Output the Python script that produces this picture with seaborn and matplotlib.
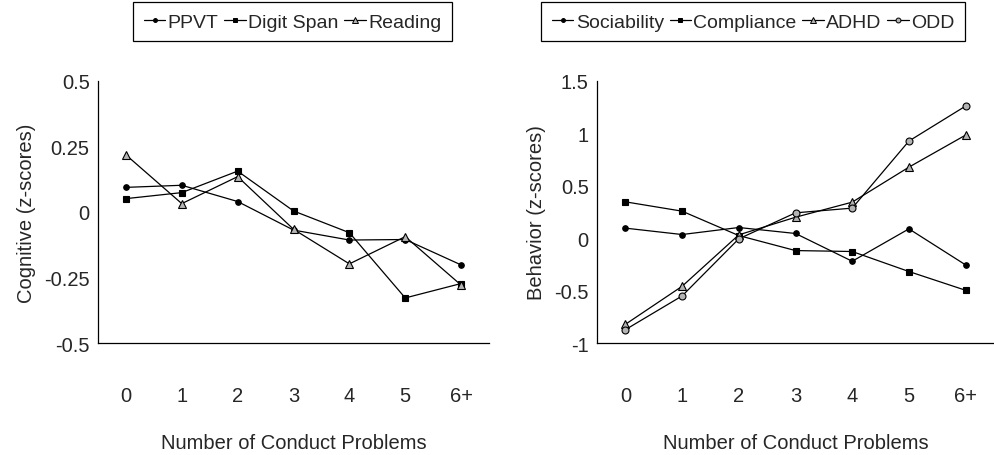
import matplotlib
matplotlib.use('Agg')
import matplotlib.pyplot as plt
from matplotlib.lines import Line2D
import seaborn as sns
import pandas as pd

# Dados
categorias = ['0', '1', '2', '3', '4', '5', '6+']

ppvt = [0.094, 0.102, 0.040, -0.069, -0.107, -0.105, -0.202]
digit_span = [0.051, 0.074, 0.156, 0.004, -0.079, -0.328, -0.273]
reading = [0.218, 0.032, 0.135, -0.066, -0.198, -0.094, -0.279]

sociability = [0.096, 0.035, 0.102, 0.045, -0.220, 0.089, -0.255]
compliance = [0.347, 0.258, 0.025, -0.118, -0.127, -0.318, -0.497]
adhd = [-0.822, -0.459, 0.032, 0.200, 0.344, 0.678, 0.984]
odd = [-0.873, -0.551, -0.006, 0.242, 0.287, 0.927, 1.261]

cog_ticks = [-0.5, -0.25, 0, 0.25, 0.5]
cog_labels = ['-0.5', '-0.25', '0', '0.25', '0.5']
beh_ticks = [-1, -0.5, 0, 0.5, 1, 1.5]
beh_labels = ['-1', '-0.5', '0', '0.5', '1', '1.5']

sns.set_style('white')
plt.rcParams['font.family'] = ['Liberation Sans', 'DejaVu Sans']

fig = plt.figure(figsize=(9.95, 4.56), dpi=100)
ax1 = fig.add_axes([0.0985, 0.2456, 0.393, 0.5746])
ax2 = fig.add_axes([0.600, 0.2456, 0.399, 0.5746])

x = list(range(len(categorias)))
cinza = '#b4b4b4'

estilos = {
    'PPVT': dict(marker='o', markersize=4, markerfacecolor='black'),
    'Digit Span': dict(marker='s', markersize=5, markerfacecolor='black'),
    'Reading': dict(marker='^', markersize=6, markerfacecolor=cinza),
    'Sociability': dict(marker='o', markersize=4, markerfacecolor='black'),
    'Compliance': dict(marker='s', markersize=5, markerfacecolor='black'),
    'ADHD': dict(marker='^', markersize=6, markerfacecolor=cinza),
    'ODD': dict(marker='o', markersize=5, markerfacecolor=cinza),
}

series_cog = {'PPVT': ppvt, 'Digit Span': digit_span, 'Reading': reading}
series_beh = {'Sociability': sociability, 'Compliance': compliance, 'ADHD': adhd, 'ODD': odd}


def desenha(ax, series, ticks, labels, ylabel, legx):
    for nome, vals in series.items():
        sns.lineplot(x=x, y=vals, ax=ax, color='black', linewidth=0.9,
                     markeredgecolor='black', markeredgewidth=0.8,
                     label=nome, **estilos[nome])
    ax.set_xlim(-0.5, 6.5)
    ax.set_ylim(ticks[0], ticks[-1])
    ax.set_yticks(ticks)
    ax.set_yticklabels(labels)
    # ticks maiores nas divisões, rótulos nas categorias
    ax.set_xticks([i - 0.5 for i in range(len(categorias) + 1)])
    ax.set_xticklabels([])
    ax.set_xticks(x, minor=True)
    ax.set_xticklabels(categorias, minor=True)
    ax.tick_params(axis='x', which='major', direction='out', length=6, width=0.9, color='black')
    ax.tick_params(axis='x', which='minor', length=0, pad=31, labelsize=14.5)
    ax.tick_params(axis='y', direction='out', length=4, width=0.9, color='black', pad=2, labelsize=14.5)
    for lado in ['top', 'right']:
        ax.spines[lado].set_visible(False)
    for lado in ['left', 'bottom']:
        ax.spines[lado].set_color('black')
        ax.spines[lado].set_linewidth(0.9)
    ax.set_xlabel('Number of Conduct Problems', fontsize=14.5, labelpad=20)
    ax.set_ylabel(ylabel, fontsize=14.5, labelpad=6)
    ax.get_legend().remove()
    # legenda com marcadores menores (cópias, sem mexer nas linhas do gráfico)
    h = []
    for nome in series:
        est = dict(estilos[nome])
        est['markersize'] = est['markersize'] * 0.7
        h.append(Line2D([], [], color='black', linewidth=0.9, markeredgecolor='black',
                        markeredgewidth=0.7, **est))
    leg = fig.legend(h, list(series), loc='center', bbox_to_anchor=(legx, 0.95), ncol=len(h),
                     fancybox=False, edgecolor='black', fontsize=14,
                     handlelength=1.1, handletextpad=0.12, columnspacing=0.3,
                     borderpad=0.55, borderaxespad=0, framealpha=1)
    leg.get_frame().set_linewidth(0.9)


desenha(ax1, series_cog, cog_ticks, cog_labels, 'Cognitive (z-scores)', 0.294)
desenha(ax2, series_beh, beh_ticks, beh_labels, 'Behavior (z-scores)', 0.757)

plt.savefig('out.png', dpi=100)
